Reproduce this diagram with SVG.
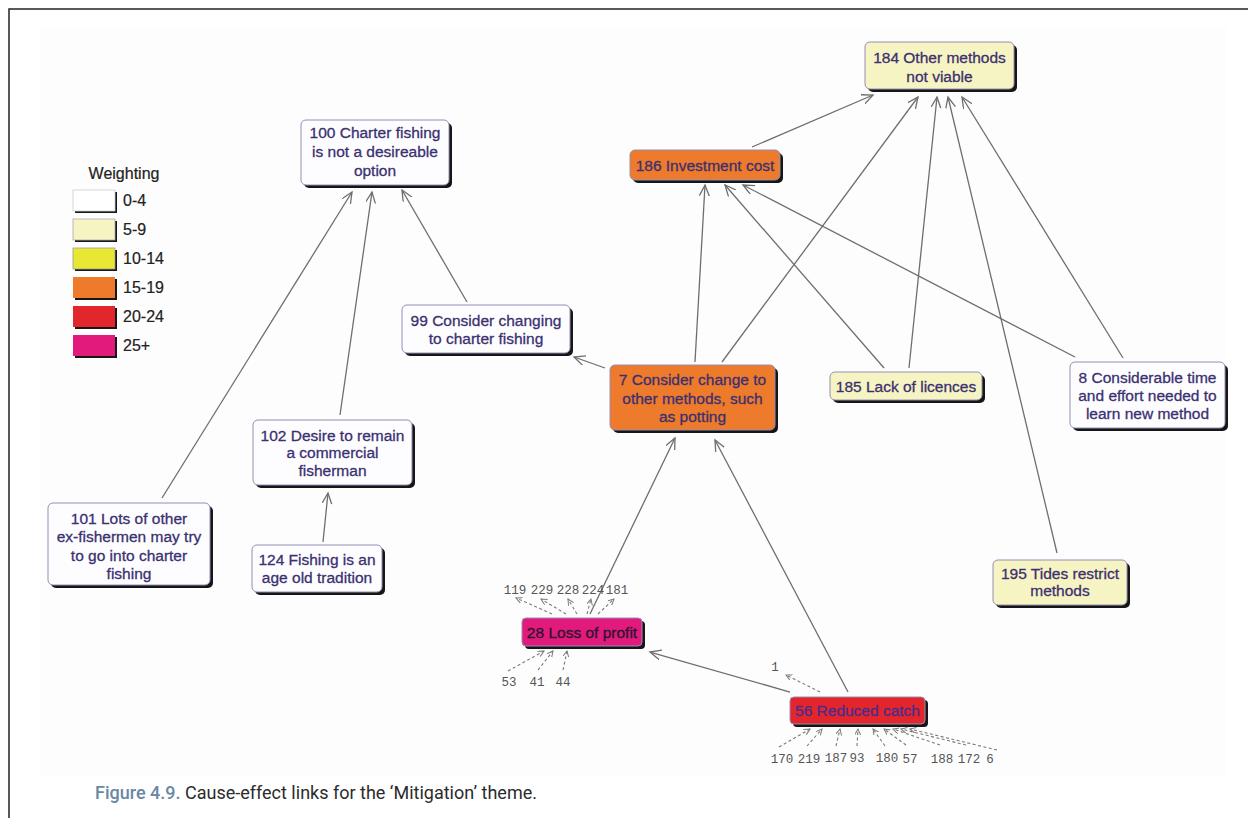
<svg xmlns="http://www.w3.org/2000/svg" width="1248" height="818" viewBox="0 0 1248 818">
<style>
.bg{fill:#fdfdfd}
.frame{stroke:#222;stroke-width:1.5;fill:none}
.shadow{fill:#161616}
.box{stroke:#948eb6;stroke-width:1}
.w{fill:#fdfdff}
.y{fill:#f7f4c3}
.g{fill:#e8e834}
.o{fill:#ee7a2c}
.r{fill:#e3252c}
.m{fill:#e11a7b}
.t{font-family:"Liberation Sans",Arial,sans-serif;font-size:15.5px;fill:#3b3070;stroke:#3b3070;stroke-width:0.3;text-anchor:middle}
.lg{font-family:"Liberation Sans",Arial,sans-serif;font-size:16px;fill:#222;stroke:#222;stroke-width:0.2}
.link{stroke:#6e6e6e;stroke-width:1.3;fill:none;marker-end:url(#ah)}
.stub{stroke:#7a7a7a;stroke-width:1.1;fill:none;stroke-dasharray:3 2.5;marker-end:url(#sah)}
.num{font-family:"Liberation Mono","DejaVu Sans Mono",monospace;font-size:12.5px;fill:#555;text-anchor:middle}
.cap{font-family:Roboto,"Liberation Sans",sans-serif;font-size:18px}
</style>
<defs>
<marker id="ah" markerUnits="userSpaceOnUse" markerWidth="14" markerHeight="12" refX="11" refY="5" orient="auto">
<path d="M0,0 L11,5 L0,10" fill="none" stroke="#6e6e6e" stroke-width="1.3"/>
</marker>
<marker id="sah" markerUnits="userSpaceOnUse" markerWidth="8" markerHeight="8" refX="6" refY="3" orient="auto">
<path d="M0,0 L6,3 L0,6" fill="none" stroke="#7a7a7a" stroke-width="1"/>
</marker>
</defs>

<rect class="bg" x="40" y="27" width="1186" height="750"/>
<path class="frame" d="M9,818 V9 H1248"/>

<g id="legend">
<text class="lg" x="124" y="179" text-anchor="middle">Weighting</text>
<rect class="shadow" x="75" y="192" width="42" height="21"/><rect x="73" y="190" width="42" height="21" fill="#fff" stroke="#ccc" stroke-width="0.8"/><text class="lg" x="123" y="206">0-4</text>
<rect class="shadow" x="75" y="221" width="42" height="21"/><rect class="y" x="73" y="219" width="42" height="21" stroke="#aaa" stroke-width="0.8"/><text class="lg" x="123" y="235">5-9</text>
<rect class="shadow" x="75" y="250" width="42" height="21"/><rect class="g" x="73" y="248" width="42" height="21" stroke="#999" stroke-width="0.8"/><text class="lg" x="123" y="264">10-14</text>
<rect class="shadow" x="75" y="279" width="42" height="21"/><rect class="o" x="73" y="277" width="42" height="21"/><text class="lg" x="123" y="293">15-19</text>
<rect class="shadow" x="75" y="308" width="42" height="21"/><rect class="r" x="73" y="306" width="42" height="21"/><text class="lg" x="123" y="322">20-24</text>
<rect class="shadow" x="75" y="337" width="42" height="21"/><rect class="m" x="73" y="335" width="42" height="21"/><text class="lg" x="123" y="351">25+</text>
</g>

<g id="connectors">
<line class="link" x1="752" y1="147" x2="873" y2="95"/>
<line class="link" x1="722" y1="362" x2="918" y2="97"/>
<line class="link" x1="909" y1="368" x2="937" y2="97"/>
<line class="link" x1="1057" y1="553" x2="948" y2="97"/>
<line class="link" x1="1123" y1="358" x2="962" y2="97"/>
<line class="link" x1="695" y1="362" x2="705" y2="185"/>
<line class="link" x1="884" y1="368" x2="725" y2="185"/>
<line class="link" x1="1075" y1="357" x2="743" y2="185"/>
<line class="link" x1="605" y1="368" x2="574" y2="357"/>
<line class="link" x1="467" y1="302" x2="402" y2="190"/>
<line class="link" x1="162" y1="498" x2="352" y2="192"/>
<line class="link" x1="340" y1="415" x2="372" y2="192"/>
<line class="link" x1="323" y1="542" x2="328" y2="493"/>
<line class="link" x1="590" y1="614" x2="675" y2="438"/>
<line class="link" x1="848" y1="692" x2="715" y2="440"/>
<line class="link" x1="790" y1="692" x2="650" y2="652"/>
<line class="stub" x1="552" y1="614" x2="516" y2="598"/>
<line class="stub" x1="566" y1="614" x2="541" y2="599"/>
<line class="stub" x1="577" y1="614" x2="568" y2="599"/>
<line class="stub" x1="587" y1="614" x2="591" y2="599"/>
<line class="stub" x1="598" y1="614" x2="614" y2="599"/>
<line class="stub" x1="508" y1="671" x2="544" y2="651"/>
<line class="stub" x1="538" y1="670" x2="553" y2="651"/>
<line class="stub" x1="563" y1="670" x2="567" y2="651"/>
<line class="stub" x1="820" y1="692" x2="786" y2="675"/>
<line class="stub" x1="779" y1="747" x2="810" y2="729"/>
<line class="stub" x1="807" y1="746" x2="822" y2="729"/>
<line class="stub" x1="836" y1="746" x2="840" y2="729"/>
<line class="stub" x1="857" y1="746" x2="858" y2="729"/>
<line class="stub" x1="885" y1="746" x2="873" y2="729"/>
<line class="stub" x1="906" y1="745" x2="884" y2="729"/>
<line class="stub" x1="940" y1="745" x2="893" y2="729"/>
<line class="stub" x1="966" y1="745" x2="901" y2="729"/>
<line class="stub" x1="997" y1="750" x2="910" y2="729"/>
</g>

<g id="stub-labels">
<text class="num" x="515" y="594">119</text>
<text class="num" x="542" y="594">229</text>
<text class="num" x="568" y="594">228</text>
<text class="num" x="593" y="594">224</text>
<text class="num" x="617" y="594">181</text>
<text class="num" x="509" y="686">53</text>
<text class="num" x="537" y="686">41</text>
<text class="num" x="563" y="686">44</text>
<text class="num" x="775" y="671">1</text>
<text class="num" x="782" y="763">170</text>
<text class="num" x="809" y="763">219</text>
<text class="num" x="836" y="762">187</text>
<text class="num" x="857" y="762">93</text>
<text class="num" x="887" y="762">180</text>
<text class="num" x="910" y="763">57</text>
<text class="num" x="942" y="763">188</text>
<text class="num" x="969" y="763">172</text>
<text class="num" x="990" y="763">6</text>
</g>

<g id="n184"><rect class="shadow" x="868" y="45" width="149" height="47" rx="5"/><rect class="box y" x="865" y="42" width="149" height="47" rx="5"/><text class="t" x="939.5" y="62.5">184 Other methods</text><text class="t" x="939.5" y="82">not viable</text></g>
<g id="n186"><rect class="shadow" x="633" y="153" width="150" height="30" rx="5"/><rect class="box o" x="630" y="150" width="150" height="30" rx="5"/><text class="t" x="705" y="170.5">186 Investment cost</text></g>
<g id="n100"><rect class="shadow" x="304" y="123" width="148" height="65" rx="5"/><rect class="box w" x="301" y="120" width="148" height="65" rx="5"/><text class="t" x="375" y="137.5">100 Charter fishing</text><text class="t" x="375" y="156.5">is not a desireable</text><text class="t" x="375" y="175.5">option</text></g>
<g id="n99"><rect class="shadow" x="405" y="308" width="168" height="48" rx="5"/><rect class="box w" x="402" y="305" width="168" height="48" rx="5"/><text class="t" x="486" y="325.5">99 Consider changing</text><text class="t" x="486" y="343.5">to charter fishing</text></g>
<g id="n7"><rect class="shadow" x="613" y="368" width="165" height="65" rx="5"/><rect class="box o" x="610" y="365" width="165" height="65" rx="5"/><text class="t" x="692.5" y="385">7 Consider change to</text><text class="t" x="692.5" y="403.5">other methods, such</text><text class="t" x="692.5" y="422">as potting</text></g>
<g id="n185"><rect class="shadow" x="833" y="375" width="152" height="28" rx="5"/><rect class="box y" x="830" y="372" width="152" height="28" rx="5"/><text class="t" x="906" y="391.5">185 Lack of licences</text></g>
<g id="n8"><rect class="shadow" x="1073" y="365" width="155" height="66" rx="5"/><rect class="box w" x="1070" y="362" width="155" height="66" rx="5"/><text class="t" x="1147.5" y="383">8 Considerable time</text><text class="t" x="1147.5" y="401">and effort needed to</text><text class="t" x="1147.5" y="419">learn new method</text></g>
<g id="n195"><rect class="shadow" x="996" y="563" width="134" height="45" rx="5"/><rect class="box y" x="993" y="560" width="134" height="45" rx="5"/><text class="t" x="1060" y="578.5">195 Tides restrict</text><text class="t" x="1060" y="596">methods</text></g>
<g id="n102"><rect class="shadow" x="256" y="423" width="159" height="65" rx="5"/><rect class="box w" x="253" y="420" width="159" height="65" rx="5"/><text class="t" x="332.5" y="440.5">102 Desire to remain</text><text class="t" x="332.5" y="458">a commercial</text><text class="t" x="332.5" y="475.5">fisherman</text></g>
<g id="n101"><rect class="shadow" x="51" y="506" width="162" height="82" rx="5"/><rect class="box w" x="48" y="503" width="162" height="82" rx="5"/><text class="t" x="129" y="523.5">101 Lots of other</text><text class="t" x="129" y="542">ex-fishermen may try</text><text class="t" x="129" y="560.5">to go into charter</text><text class="t" x="129" y="579">fishing</text></g>
<g id="n124"><rect class="shadow" x="255" y="548" width="130" height="47" rx="5"/><rect class="box w" x="252" y="545" width="130" height="47" rx="5"/><text class="t" x="317" y="565">124 Fishing is an</text><text class="t" x="317" y="583">age old tradition</text></g>
<g id="n28"><rect class="shadow" x="525" y="621" width="120" height="28" rx="4"/><rect class="box m" x="522" y="618" width="120" height="28" rx="4"/><text class="t" x="582" y="637.5" style="fill:#2a1530;stroke:#2a1530">28 Loss of profit</text></g>
<g id="n56"><rect class="shadow" x="793" y="700" width="135" height="27" rx="4"/><rect class="box r" x="790" y="697" width="135" height="27" rx="4"/><text class="t" x="857.5" y="716" style="fill:#4b2c8c;stroke:#4b2c8c">56 Reduced catch</text></g>

<text class="cap" x="95" y="799"><tspan fill="#6a87a4" font-weight="500">Figure 4.9.</tspan><tspan fill="#2b2b2b"> Cause-effect links for the ‘Mitigation’ theme.</tspan></text>
</svg>
